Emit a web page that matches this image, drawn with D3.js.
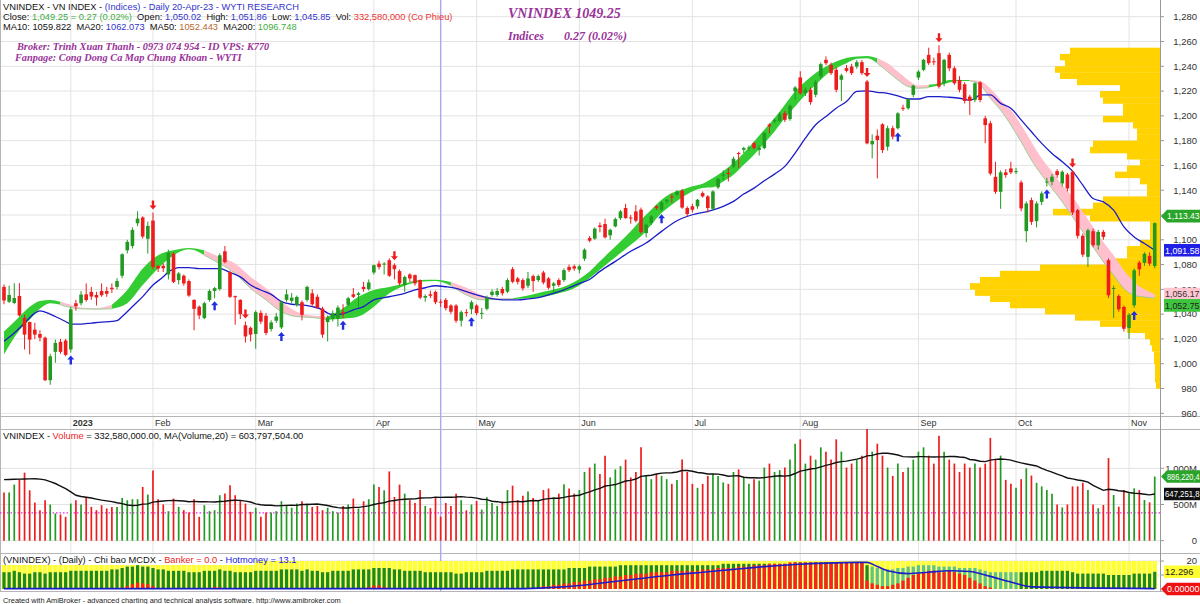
<!DOCTYPE html>
<html><head><meta charset="utf-8">
<script src="https://cdn.jsdelivr.net/npm/d3@7"></script>
<style>
body{margin:0;background:#fff}
svg{display:block;font-family:"Liberation Sans",Arial,sans-serif}
text{white-space:pre}
</style></head>
<body><svg id="c" width="1200" height="604"></svg>
<script>
// ---------------- DATA ----------------
const opens=[1062,1050,1049,1054.7,1037,1033.6,1027.5,1024,1021,986.7,
1009.6,1017.6,1018.7,1011.5,1048.8,1048.8,1056,1058,1055.5,1058.7,
1058.7,1061.3,1062,1071,1091.5,1095,1113.3,1118,1100.8,1115.5,
1078.9,1079,1072,1088.8,1067.5,1071,1066.7,1051.5,1046,1036.8,
1051.5,1058.7,1060.3,1090.7,1074,1054.5,1051.5,1031,1029,1024,
1041,1038.7,1028,1034.7,1029.3,1051.5,1050.7,1047.5,1049.6,1051.5,
1056.8,1054,1044.5,1033.6,1036.3,1036.3,1041.9,1047.5,1056,1055.5,
1062,1060.3,1073.6,1080.8,1080,1083.5,1079.5,1074.7,1063.5,1072,
1071.5,1067.5,1053.3,1056,1058,1050.02,1051.5,1047,1047,1034.7,
1041.6,1044,1047,1040.5,1044.3,1055.5,1055.5,1060.3,1058.1,1076.3,
1068.8,1067.5,1062.9,1070.7,1067.5,1073.6,1068.8,1062.9,1067.5,1067.5,
1078.1,1078.6,1075.9,1084.7,1101.4,1100.9,1111.6,1112.7,1103.6,1110.8,
1117.5,1125.6,1118,1122.9,1124.3,1105.4,1113.5,1126.9,1124.3,1131,
1135,1136.4,1139.6,1125.6,1127,1127,1137.7,1135,1125,1142.3,
1152,1154,1159.2,1170,1172.6,1174,1178,1172.6,1174,1193,
1195.5,1196,1202.2,1197.4,1219.7,1231,1218.3,1221,1217,1231.8,
1245.2,1241.2,1237.2,1229.1,1238.5,1239.8,1239.8,1243.3,1227.7,1177,
1184,1193.2,1175.1,1190,1190,1206.5,1206.1,1216.9,1230.9,1237.1,
1249.2,1244,1250.6,1226.3,1249.2,1238.4,1229,1225.5,1215.5,1212.8,
1227,1198,1194,1150.8,1138.7,1154.4,1157.6,1155.2,1146.3,1107,
1132,1115,1130.6,1146.5,1146.8,1155.4,1145.5,1152.7,1154.9,1123.9,
1103.2,1086.2,1106.9,1095.6,1106.4,1083.5,1060.8,1054.7,1045.8,1028.8,
1047.1,1081.6,1081.3,1087,1078.9];
const highs=[1064,1063,1065,1065,1039.5,1034,1033,1027,1022,1008,
1019.5,1020,1020,1046,1051.5,1058.7,1064.8,1062,1058,1064.8,
1062,1064.8,1069,1089,1100,1110,1123,1119,1114.7,1122,
1080,1081,1092,1090,1074,1072,1068,1052,1047,1050,
1060,1062,1089,1095,1075,1055,1052,1034,1030,1043,
1043,1041,1035,1041,1051,1060,1057,1055,1051,1063,
1060,1056,1046,1039,1043,1047,1048,1054,1061,1058,
1066,1068,1080,1083,1082,1085,1081,1076,1071,1073,
1072,1068,1056,1059,1059,1051.86,1053,1048,1048,1043,
1044,1051,1048,1045,1055,1060,1061,1062,1069,1078,
1070,1069,1074,1072,1072,1075,1070,1066,1069,1077,
1080,1080,1080,1093,1103,1110,1114,1117,1109,1118,
1124,1129,1120,1128,1126,1113,1120,1128,1131,1133,
1137,1140,1141,1127,1129,1133,1139,1136,1140,1150,
1156,1158,1167,1171,1175,1176,1179,1176,1187,1194,
1198,1203,1204,1209,1224,1236,1223,1223,1229,1243,
1248,1243,1239,1234,1241,1242,1245,1245,1229,1185,
1189,1194,1192,1192,1203,1209,1214,1225,1237,1246,
1255,1247,1257,1246,1251,1240,1232,1227,1217,1227,
1228,1200,1196,1163,1156,1157,1163,1158,1148,1131,
1134,1131,1139,1150,1153,1157,1156,1154,1156,1125,
1105,1109,1109,1108,1108,1085,1063,1056,1047,1041,
1077,1083,1090,1090,1114];
const lows=[1048,1049,1048,1038,1011.5,1007.5,1020,1018,986,983,
1000.8,1008,1006,1009,1042.7,1047,1050,1051.5,1047,1054,
1054,1057,1060,1069,1089,1093,1111,1101,1088.8,1076,
1074,1074,1068,1065,1064,1063,1054,1027,1036,1036,
1050,1052.8,1059,1081,1053,1031.5,1036,1017,1018,1012,
1032,1023,1026,1033,1028,1050,1049,1046,1035,1050,
1046,1044,1021,1018,1034,1030,1037,1046,1053,1046,
1058,1059,1072,1076,1072,1070,1068,1063,1058,1066,
1063,1052,1050,1053,1048,1045.85,1043,1040,1033,1030,
1038,1040,1039,1036,1043,1054,1054,1055,1057,1065,
1064,1059,1061,1058,1066,1064,1060,1057,1062,1066,
1074,1075,1073,1083,1098,1100,1106,1101,1100,1110,
1116,1117,1113,1114,1105,1102,1112,1124,1123,1129,
1130,1135,1125,1119,1122,1125,1134,1122,1124,1141,
1148,1147,1158,1158,1170,1172,1173,1168,1173,1186,
1194,1195,1195,1196,1213,1217,1216,1209,1215,1230,
1241,1233,1219,1212,1235,1233,1238,1233,1177,1165.7,
1149.5,1170,1172,1181,1189,1204,1205,1215,1229,1236,
1241,1241,1222,1224,1236,1225,1219,1210,1200.7,1211,
1211,1178,1152,1137,1125,1150,1153,1153,1123,1098,
1112,1110,1128,1143,1144,1150,1143,1139,1120,1101,
1086,1078,1094,1092,1100,1053,1037,1042,1026,1020,
1045,1071,1079,1079,1077];
const closes=[1051,1055.5,1053,1039,1023.5,1019.5,1023.5,1021,986.7,1006,
1016.8,1009.6,1007.1,1043.9,1046.4,1055.8,1051.4,1054.2,1053.4,1055.3,
1056.4,1060.2,1066.7,1088.3,1098.3,1108,1117.1,1102.6,1111.2,1078,
1076.8,1077,1089.6,1066,1072.8,1064.8,1055,1044.3,1039,1048.8,
1058.7,1061,1087.5,1082,1054,1053.6,1040,1022,1023.5,1041.6,
1034,1024.8,1033.3,1038,1049.6,1056,1053.3,1053.9,1039.5,1062,
1048,1045.3,1023.5,1037.3,1040.8,1045.3,1040.5,1052.8,1054,1056.8,
1060.3,1065.6,1079.5,1078,1080.8,1071,1076.3,1064.8,1070,1068.8,
1064.8,1053.3,1054.6,1054.8,1049.6,1049.25,1044.8,1042,1034.7,1041.6,
1040.8,1049.6,1040.8,1041,1053.3,1058.1,1058.7,1056.8,1067.5,1066.1,
1066.1,1060.8,1068.8,1066.7,1070.7,1065.6,1061.3,1064.8,1063.5,1075.5,
1075.5,1076.8,1078.6,1092,1099.3,1109,1110.3,1102,1108.1,1116.7,
1122.9,1117.5,1117.5,1115.4,1106.2,1112.2,1118.9,1125.6,1130.2,1132.3,
1134.5,1139,1126,1120.8,1124.3,1132.3,1135,1125.6,1139,1149,
1152.5,1153,1165.4,1169.5,1174,1174.5,1174,1174,1186.1,1191.5,
1196.8,1201.4,1196.8,1208.1,1222.9,1218.3,1221,1211.1,1227.2,1241.7,
1242.5,1234.5,1221,1232.6,1236.3,1234.5,1243.3,1234.5,1177.8,1179.7,
1180.5,1172.4,1190,1183.2,1202,1206,1213.6,1224.4,1235.7,1245.2,
1242.5,1243.8,1223.6,1245.2,1238.4,1226.3,1221,1212,1212,1226.3,
1212.8,1192.6,1153.5,1138.7,1154.4,1152.2,1154.4,1155.4,1125.3,1129.3,
1114.5,1129.3,1137.4,1147,1150.9,1152.2,1154.9,1141.4,1122,1103.2,
1088,1107.7,1095.6,1106.4,1102.3,1055.2,1061.1,1043.9,1028.2,1039.5,
1075.4,1076.2,1088.7,1080.8,1113.43];
// volume, millions of shares
const volumes=[665,665,775,848,940,696,527,422,559,500,
376,362,330,513,559,500,604,467,422,490,
445,467,467,591,559,573,573,742,637,971,
573,500,408,582,467,422,390,573,330,490,
408,422,628,651,765,628,559,513,399,455,
330,390,390,408,545,490,455,513,545,513,
467,480,422,455,408,390,480,500,582,445,
545,573,775,742,696,957,604,775,650,560,
520,700,480,450,600,333,520,480,650,560,
420,500,550,430,600,520,480,540,700,760,
560,620,680,590,560,700,720,600,650,780,
720,650,700,950,1010,1065,920,1175,875,985,
1030,1120,875,950,1290,895,850,920,895,850,
785,840,1120,950,785,730,785,895,920,895,
805,785,950,985,875,785,850,830,1010,1065,
950,975,1010,1120,1340,1400,1065,1175,1120,1290,
1230,1120,1400,1230,1010,1065,1120,1175,1560,1230,
1340,1175,1010,895,1065,950,1010,1120,1230,1290,
1175,1065,1450,1230,1120,1065,950,1065,1010,1065,
1010,1065,1420,1120,1175,840,785,730,850,1000,
900,800,750,700,650,500,460,500,750,750,
800,700,500,450,493,1142,631,470,700,654,
723,700,562,530,886];
const volMaHead=[843,846,848,850,852,854,855,850,840,815,790,755,720,675,628,610,600,590,575];
// MA20 of close (blue), read at sample bars
const ma20Idx=[0,2,4,6,7,8,10,12,13,15,17,19,21,22,23,25,27,29,31,32,33,34,36,38,40,42,44,46,48,50,52,54,56,58,60,62,63,64,66,68,70,72,74,76,78,80,82,84,86,88,90,92,94,96,98,100,102,104,106,108,110,112,114,116,119,122,125,128,131,134,137,140,142,144,146,148,150,152,154,156,158,160,162,164,166,168,170,172,174,176,178,180,182,184,186,188,189,190,192,194,196,198,200,202,204,206,208,210,212,214,216,218,220,222,224];
const ma20Val=[1018.1,1024.8,1032.8,1040.8,1042.7,1041.6,1038.1,1034.1,1032,1032,1032.8,1033.6,1034.1,1034.7,1038.1,1046.1,1054.1,1063.5,1070.1,1074.1,1076.3,1077.6,1077.6,1076.8,1076.8,1076.8,1073.6,1070.1,1063.5,1059.5,1056,1050.1,1048,1047.5,1046.1,1043.5,1040.8,1039.5,1040.3,1043.5,1046.1,1051.5,1053.3,1054.9,1056.8,1059.5,1061.3,1062.9,1062.1,1060.8,1058.1,1055.5,1053.3,1052,1051.5,1051.5,1052.3,1053.3,1055.5,1058.1,1061.3,1064.8,1068,1074.5,1082.6,1090.7,1097.4,1106.8,1115.4,1120.2,1122.9,1127,1131,1136.9,1141.7,1147.6,1153,1159.2,1170,1182,1192.8,1199.5,1206.2,1211.6,1219.7,1220.2,1219,1218.2,1216.1,1213.6,1213.6,1215.5,1215.5,1215,1214.2,1212.8,1214,1217,1216.9,1210.1,1206.1,1196.7,1187.2,1177.8,1169.7,1163,1155.4,1144.1,1133.3,1130.6,1123.9,1110.4,1102.3,1097,1091.58];
// trend ribbon (two smoothed lines), read at sample bars
const ribIdx=[0,3,5,7,9,11,13,15,18,21,24,27,30,33,36,39,42,45,48,51,54,57,60,63,66,69,72,75,78,81,84,87,90,93,96,99,102,105,108,111,114,116,118,120,122,124,126,128,130,132,134,136,138,140,142,144,146,148,150,152,154,156,158,160,162,164,166,168,170,172,174,176,178,180,182,184,186,188,190,192,194,196,198,200,202,204,206,208,210,212,214,216,218,220,222,224];
const ribHi=[1026,1038,1046,1050.7,1051.5,1050,1047.5,1045.3,1044.8,1047.5,1059.5,1076.8,1087.5,1091.5,1093.3,1091.5,1086,1080.8,1070,1060.8,1050,1042,1038.9,1038.1,1044.8,1054,1059.5,1062,1064.8,1067.5,1067.8,1066,1061.3,1055.5,1052.8,1052.8,1055,1058,1060.8,1066,1074.5,1082.6,1090.7,1098.7,1106.8,1116.2,1124.3,1132.3,1137.7,1140.4,1143.1,1145.2,1149.8,1155.2,1161.9,1170,1179.4,1188.8,1198.2,1209,1219.7,1227.7,1234.5,1239.8,1243.9,1246.6,1247.9,1248.3,1246.5,1242.5,1235.7,1229,1224.4,1225,1226.3,1229,1229,1229,1228.2,1222.3,1212.8,1204.7,1192.6,1179,1165.7,1154.9,1144.1,1134.7,1122.6,1110.4,1098.3,1087.5,1075.4,1066,1060,1056.17];
const ribLo=[1007.5,1027,1035.5,1044.3,1048.8,1047.5,1045.3,1044.3,1044,1044.3,1048.8,1063.5,1076.8,1087.5,1092.3,1087.5,1080.8,1072.8,1060.8,1051.5,1042,1038,1037.3,1035.5,1036.3,1038.1,1046,1056.8,1062.9,1066.1,1066.8,1063,1055.5,1051.5,1052,1052.3,1052.8,1054,1056.8,1060.8,1069,1075.9,1082.6,1089.3,1096,1102.8,1112.2,1121.6,1128.3,1134.2,1139,1141.7,1142.3,1147.1,1152.5,1160.5,1168.6,1178,1187.4,1198.2,1207.6,1217,1225,1233,1238.5,1242.5,1246,1246.5,1242.5,1235.7,1229,1223.6,1222.3,1222.8,1224.4,1227,1228.2,1228.2,1225,1214.2,1204.7,1192.6,1179,1164.3,1152.2,1141.4,1130.6,1118.5,1106.4,1094.3,1082.1,1071.4,1060.6,1055.2,1053.8,1052.75];
const ribUp=[1,1,1,1,1,0,0,0,0,1, 1,1,1,1,1,0,0,0,0,0, 0,0,0,1,1,1,1,1,1,1, 1,0,0,0,0,1,1,1,1,1, 1,1,1,1,1,1,1,1,1,1, 1,1,1,1,1,1,1,1,1,1, 1,1,1,1,1,1,1,1,0,0, 0,0,0,1,1,1,1,0,0,0, 0,0,0,0,0,0,0,0,0,0, 0,0,0,0,0,0];
const buyIdx=[13,41,54,66,91,128,174,203,220];
const sellIdx=[29,47,76,168,182,208];
const monthIdx=[13,29,49,72,92,112,134,155,178,197,219];
const monthLabels=["2023","Feb","Mar","Apr","May","Jun","Jul","Aug","Sep","Oct","Nov"];
const priceTicks=[960,980,1000,1020,1040,1060,1080,1100,1120,1140,1160,1180,1200,1220,1240,1260,1280];
const volTicks=[0,500,1000];
const volTickLabels=["0","500M","1,000M"];
// volume at price profile
const profilePrice=[980,985,990,995,1000,1005,1010,1015,1020,1025,1030,1035,1040,1045,1050,1055,1060,1065,1070,1075,1080,1085,1090,1095,1100,1105,1110,1115,1120,1125,1130,1135,1140,1145,1150,1155,1160,1165,1170,1175,1180,1185,1190,1195,1200,1205,1210,1215,1220,1225,1230,1235,1240,1245,1250];
const profileVolume=[4,5,5,5,6,6,8,10,15,33,60,85,115,150,170,185,190,180,160,120,50,33,33,20,10,10,10,70,107,67,57,13,13,20,45,33,20,33,70,67,23,23,27,57,37,37,57,60,40,83,100,105,95,100,90];
// MCDX indicator
const hotmoney=[12,12,13,12,11,11,12,12,11,12,12,12,12,13,13,13,13,13,13,13,13,14,14,15,16,
16,17,16,16,15,14,14,13,13,13,13,12,12,12,13,13,13,14,13,13,12,12,12,12,13,
13,13,13,13,14,14,14,14,13,14,13,13,12,12,13,13,13,13,14,14,14,14,15,15,15,
15,14,14,13,13,13,13,12,12,12,12,12,12,11,11,12,12,12,12,13,13,13,13,13,14,
14,14,14,14,14,14,14,14,14,14,15,15,15,15,16,16,16,16,16,16,17,17,17,17,17,
17,17,17,17,17,17,17,17,17,17,17,17,17,17,17,18,18,18,18,18,18,18,18,18,18,
18,18,18,18,19,19,19,19,19,19,19,19,19,19,19,19,19,19,17,16,15,14,14,14,15,
15,16,16,17,17,17,17,16,16,16,16,15,15,15,15,14,13,12,12,12,12,12,12,12,12,
12,12,13,13,13,13,13,13,12,11,11,11,11,11,11,10,10,10,10,10,11,11,11,11,12.3];
const banker=[0,0,0,0,0,0,0,0,0,0,0,0,0,0,0,0,0,0,0,0,0,0,0,1,2,
3.5,4.5,4,3.5,2,0,0,0,0,0,0,0,0,0,0,0,1.5,1,0,0,0,0,0,0,0,
0,0,0,0,0,0,0,0,0,0,0,0,0,0,0,0,0,0,0,0,0,1.5,2.5,2.5,1.5,
0,0,0,0,0,0,0,0,0,0,0,0,0,0,0,0,0,0,0,0,0,0,0,0,0,
0,0,0,0,1,2,2,3,3,4,4,5,5,6,6,7,7,8,8,9,9,10,10,11,11,
11,12,12,12,12,13,13,13,13,13,13,14,14,14,15,15,15,15,16,16,16,17,17,17,18,
18,18,18,19,19,19,19,19,19,19,19,19,19,19,19,19,19,19,6,4,3,2,2,3,4,
6,8,10,11,12,13,13,12,12,13,12,11,10,8,6,4,2,1,0,0,0,0,0,0,0,
0,0,0,0,0,0,0,0,0,0,0,0,0,0,0,0,0,0,0,0,0,0,0,0,0];
const mcdxLineIdx=[0,100,106,112,118,124,130,136,142,148,154,160,166,168,170,172,176,180,184,188,192,196,200,224];
const mcdxLineVal=[0.3,0.3,1,2.5,5,7.5,10,12,14,16,17.5,18.5,19,19,16,13,11,12,13,12.5,9,5,1.5,0.3];

// ---------------- CHART ----------------
const n=closes.length;
const svg=d3.select('#c');
const PR=1160; // right edge of plot area
const x=d3.scaleBand().domain(d3.range(n)).range([1.43,1157.3]);
const cx=i=>x(i)+x.bandwidth()/2;
const y=d3.scaleLinear().domain([960,1280]).range([413.3,16.7]);
const yv=d3.scaleLinear().domain([0,1000]).range([540.7,468.3]);
const ym=d3.scaleLinear().domain([0,20]).range([589,561]);
const GREEN="#229a22", RED="#ee1c1c";
const defs=svg.append('defs');
function clip(id,x0,y0,w,h){defs.append('clipPath').attr('id',id).append('rect').attr('x',x0).attr('y',y0).attr('width',w).attr('height',h);}
clip('cm',0,0,PR,416);clip('cv',0,429,PR,124);clip('cx',0,553,PR,38);

// grid
const grid=svg.append('g').attr('stroke','#e3e3e3').attr('stroke-width',1);
priceTicks.forEach(t=>grid.append('line').attr('x1',0).attr('x2',PR).attr('y1',y(t)).attr('y2',y(t)));
volTicks.forEach(t=>grid.append('line').attr('x1',0).attr('x2',PR).attr('y1',yv(t)).attr('y2',yv(t)));
[10,20].forEach(t=>grid.append('line').attr('x1',0).attr('x2',PR).attr('y1',ym(t)).attr('y2',ym(t)));
monthIdx.forEach(i=>grid.append('line').attr('x1',cx(i)).attr('x2',cx(i)).attr('y1',0).attr('y2',591));

// panel separators
const sep=svg.append('g').attr('stroke','#b5b5b5').attr('stroke-width',1);
[416.5,429.5,553.5,591.5].forEach(v=>sep.append('line').attr('x1',0).attr('x2',1200).attr('y1',v).attr('y2',v));
sep.append('line').attr('x1',PR+0.5).attr('x2',PR+0.5).attr('y1',0).attr('y2',591.5).attr('stroke','#999');
sep.append('line').attr('x1',0.5).attr('x2',0.5).attr('y1',0).attr('y2',591.5);

// cursor line (selected bar)
svg.append('line').attr('x1',cx(85)).attr('x2',cx(85)).attr('y1',0).attr('y2',591).attr('stroke','#a8a8ee').attr('stroke-width',1.4);

// ---- main panel ----
const gm=svg.append('g').attr('clip-path','url(#cm)');
// volume profile
gm.append('g').selectAll('rect').data(profilePrice).join('rect')
 .attr('x',(d,i)=>PR-profileVolume[i]).attr('width',(d,i)=>profileVolume[i])
 .attr('y',d=>y(d+5)).attr('height',d=>y(d)-y(d+5)+0.3).attr('fill','#ffd200');
// ribbon
const ribPts=ribIdx.map((d,k)=>({i:d,hi:ribHi[k],lo:ribLo[k],up:ribUp[k]}));
const runs=[];let cur=[ribPts[0]];
for(let k=1;k<ribPts.length;k++){
  if(ribPts[k].up!==cur[0].up){cur.push(ribPts[k]);runs.push(cur);cur=[ribPts[k]];}
  else cur.push(ribPts[k]);
}
runs.push(cur);
const area=d3.area().x(d=>cx(d.i)).y0(d=>y(d.lo)).y1(d=>y(d.hi)).curve(d3.curveMonotoneX);
runs.forEach(r=>{
  gm.append('path').attr('d',area(r)).attr('fill',r[0].up?'#33cc33':'#ffbfcc');
});
runs.filter(r=>!r[0].up).forEach(r=>{
  gm.append('path').attr('d',d3.line().x(d=>cx(d.i)).y(d=>y(d.lo)).curve(d3.curveMonotoneX)(r))
   .attr('fill','none').attr('stroke','#8fcf8f').attr('stroke-width',0.9);
});
// MA20
gm.append('path').attr('d',d3.line().x((d,k)=>cx(ma20Idx[k])).y(d=>y(d)).curve(d3.curveMonotoneX)(ma20Val))
 .attr('fill','none').attr('stroke','#1c1cc8').attr('stroke-width',1.3);
// candles
const bw=3.6;
const cg=gm.append('g');
d3.range(n).forEach(i=>{
  const up=closes[i]>=opens[i];const col=up?GREEN:RED;
  cg.append('line').attr('x1',cx(i)).attr('x2',cx(i)).attr('y1',y(highs[i])).attr('y2',y(lows[i])).attr('stroke',col).attr('stroke-width',1);
  const t=y(Math.max(opens[i],closes[i])),b=y(Math.min(opens[i],closes[i]));
  cg.append('rect').attr('x',cx(i)-bw/2).attr('width',bw).attr('y',t).attr('height',Math.max(1,b-t)).attr('fill',col);
});
// signal arrows
function arrow(xc,yt,dir,col){
  const s=dir; // 1 = up arrow (tip at top), -1 = down arrow
  const p=[[0,0],[3.5,4*s],[1.2,4*s],[1.2,9*s],[-1.2,9*s],[-1.2,4*s],[-3.5,4*s]];
  gm.append('path').attr('d','M'+p.map(q=>(xc+q[0])+','+(yt+q[1])).join('L')+'Z').attr('fill',col);
}
buyIdx.forEach(i=>arrow(cx(i),y(lows[i])+3,1,'#1f2fe0'));
sellIdx.forEach(i=>arrow(cx(i),y(highs[i])-3,-1,'#ee1c1c'));

// ---- volume panel ----
const gv=svg.append('g').attr('clip-path','url(#cv)');
gv.append('line').attr('x1',0).attr('x2',PR).attr('y1',yv(385)).attr('y2',yv(385)).attr('stroke','#ee22ee').attr('stroke-width',1.2).attr('stroke-dasharray','1.5,2');
gv.append('g').selectAll('line').data(volumes).join('line')
 .attr('x1',(d,i)=>cx(i)).attr('x2',(d,i)=>cx(i)).attr('y1',yv(0)).attr('y2',d=>yv(d))
 .attr('stroke',(d,i)=>closes[i]>=opens[i]?GREEN:RED).attr('stroke-width',1.7);
const volMa=volumes.map((v,i)=>i<19?volMaHead[i]:d3.mean(volumes.slice(i-19,i+1)));
gv.append('path').attr('d',d3.line().x((d,i)=>cx(i)).y(d=>yv(d))(volMa)).attr('fill','none').attr('stroke','#111').attr('stroke-width',1.4);

// ---- MCDX panel ----
const gx=svg.append('g').attr('clip-path','url(#cx)');
gx.append('g').selectAll('rect').data(d3.range(n)).join('rect')
 .attr('x',i=>x(i)+0.3).attr('width',x.bandwidth()-0.6).attr('y',ym(20)).attr('height',ym(0)-ym(20)).attr('fill','#ffff33');
gx.append('g').selectAll('rect').data(hotmoney).join('rect')
 .attr('x',(d,i)=>cx(i)-1.6).attr('width',3.2).attr('y',d=>ym(d)).attr('height',d=>ym(0)-ym(d))
 .attr('fill',(d,i)=>(i>=169&&i<=197)?'#5fc48a':'#1e8a1e');
gx.append('g').selectAll('rect').data(banker).join('rect')
 .attr('x',(d,i)=>cx(i)-1.6).attr('width',3.2).attr('y',d=>ym(d)).attr('height',d=>ym(0)-ym(d)).attr('fill','#ff2020');
gx.append('path').attr('d',d3.line().x((d,k)=>cx(mcdxLineIdx[k])).y(d=>ym(d)).curve(d3.curveMonotoneX)(mcdxLineVal))
 .attr('fill','none').attr('stroke','#1c1cc8').attr('stroke-width',1.6);

// ---- axes (right) ----
const ax=svg.append('g').attr('font-size','9.5px').attr('fill','#333').attr('text-anchor','end');
priceTicks.forEach(t=>{
  ax.append('line').attr('x1',PR).attr('x2',PR+4).attr('y1',y(t)).attr('y2',y(t)).attr('stroke','#999');
  ax.append('text').attr('x',1197).attr('y',y(t)+3.3).text(d3.format(',')(t));
});
volTicks.forEach((t,k)=>{
  ax.append('line').attr('x1',PR).attr('x2',PR+4).attr('y1',yv(t)).attr('y2',yv(t)).attr('stroke','#999');
  ax.append('text').attr('x',1197).attr('y',yv(t)+3.3).text(volTickLabels[k]);
});
[10,20].forEach(t=>ax.append('line').attr('x1',PR).attr('x2',PR+4).attr('y1',ym(t)).attr('y2',ym(t)).attr('stroke','#999'));
ax.append('text').attr('x',1197).attr('y',ym(20)+3.3).text('20');

// value tags on axis (shift = vertical nudge used by the source to keep tags apart)
function tag(v,scale,txt,fill,tc,pointer,shift){
  const yy=scale(v)+(shift||0), x0=PR+1, h=6.3;
  const d=pointer?`M${x0},${yy}L${x0+6},${yy-h}L1200,${yy-h}L1200,${yy+h}L${x0+6},${yy+h}Z`
                  :`M${x0+3},${yy-h}L1200,${yy-h}L1200,${yy+h}L${x0+3},${yy+h}Z`;
  svg.append('path').attr('d',d).attr('fill',fill);
  const tx=x0+(pointer?6:4);
  const t=svg.append('text').attr('x',tx).attr('y',yy+3.3).attr('font-size','9.3px').attr('fill',tc).text(txt);
  const avail=1199.5-tx, w=t.node().getComputedTextLength();
  if(w>avail) t.attr('textLength',avail).attr('lengthAdjust','spacingAndGlyphs');
}
tag(closes[n-1],y,d3.format(',.2f')(closes[n-1]),'#2aa52a','#fff',true,-7);
tag(ma20Val[ma20Val.length-1],y,d3.format(',.2f')(ma20Val[ma20Val.length-1]),'#1f1fe6','#fff',false,0);
tag(ribHi[ribHi.length-1],y,d3.format(',.2f')(ribHi[ribHi.length-1]),'#ffc6d2','#333',false,0);
tag(ribLo[ribLo.length-1],y,d3.format(',.2f')(ribLo[ribLo.length-1]),'#3fc43f','#222',false,7);
tag(volumes[n-1],yv,'886,220,4','#2aa52a','#fff',true,0);
tag(volMa[n-1],yv,'647,251,8','#111','#fff',false,0);
tag(hotmoney[n-1],ym,'12.296','#ffff33','#222',false,0);
tag(banker[n-1],ym,'0.00000','#ee1111','#fff',true,0);

// month labels
const ml=svg.append('g').attr('font-size','9px').attr('fill','#333');
monthIdx.forEach((i,k)=>ml.append('text').attr('x',cx(i)+2).attr('y',426).attr('font-weight',k===0?'bold':'normal').text(monthLabels[k]));

// ---- titles ----
function rich(xp,yp,size,parts,extra){
  const t=svg.append('text').attr('x',xp).attr('y',yp).attr('font-size',size+'px');
  if(extra)extra(t);
  parts.forEach(p=>t.append('tspan').attr('fill',p[1]).text(p[0]));
  return t;
}
const B='#3333cc',K='#111';
rich(3,9.5,9.3,[["VNINDEX - VN INDEX - ",K],["(Indices) - Daily 20-Apr-23 - WYTI RESEARCH",B]]);
rich(3,19.5,9.3,[["Close: ",K],["1,049.25 = 0.27 (0.02%)","#3fae3f"],["  Open: ",K],["1,050.02",B],["  High: ",K],["1,051.86",B],["  Low: ",K],["1,045.85",B],["  Vol: ",K],["332,580,000 (Co Phieu)","#ee3333"]]);
rich(3,29.5,9.3,[["MA10: 1059.822  ",K],["MA20: ",K],["1062.073",B],["  MA50: ",K],["1052.443","#b8692e"],["  MA200: ",K],["1096.748","#3fae3f"]]);
const serif=t=>t.attr('font-family','"Liberation Serif","Times New Roman",serif').attr('font-style','italic').attr('font-weight','bold');
rich(17,50,10.3,[["Broker: Trinh Xuan Thanh - 0973 074 954 - ID VPS: K770","#993399"]],serif);
rich(15,60.5,10.3,[["Fanpage: Cong Dong Ca Map Chung Khoan - WYTI","#993399"]],serif);
rich(508,18,14,[["VNINDEX 1049.25","#993399"]],serif);
rich(508,40,12,[["Indices","#993399"]],serif);
rich(564,40,12,[["0.27 (0.02%)","#993399"]],serif);
rich(3,438.5,9.3,[["VNINDEX - ",K],["Volume","#ee2222"],[" = 332,580,000.00, MA(Volume,20) = 603,797,504.00",K]]);
svg.append('rect').attr('x',1).attr('y',555).attr('width',254).attr('height',10).attr('fill','#fff');
rich(3,563,9.3,[["(VNINDEX) - (Daily) - Chi bao MCDX - ",K],["Banker = 0.0","#ee2222"],[" - ",K],["Hotmoney = 13.1","#2222dd"]]);
rich(3,602.5,7.4,[["Created with AmiBroker - advanced charting and technical analysis software. http://www.amibroker.com","#222"]]);
</script>
</body></html>
